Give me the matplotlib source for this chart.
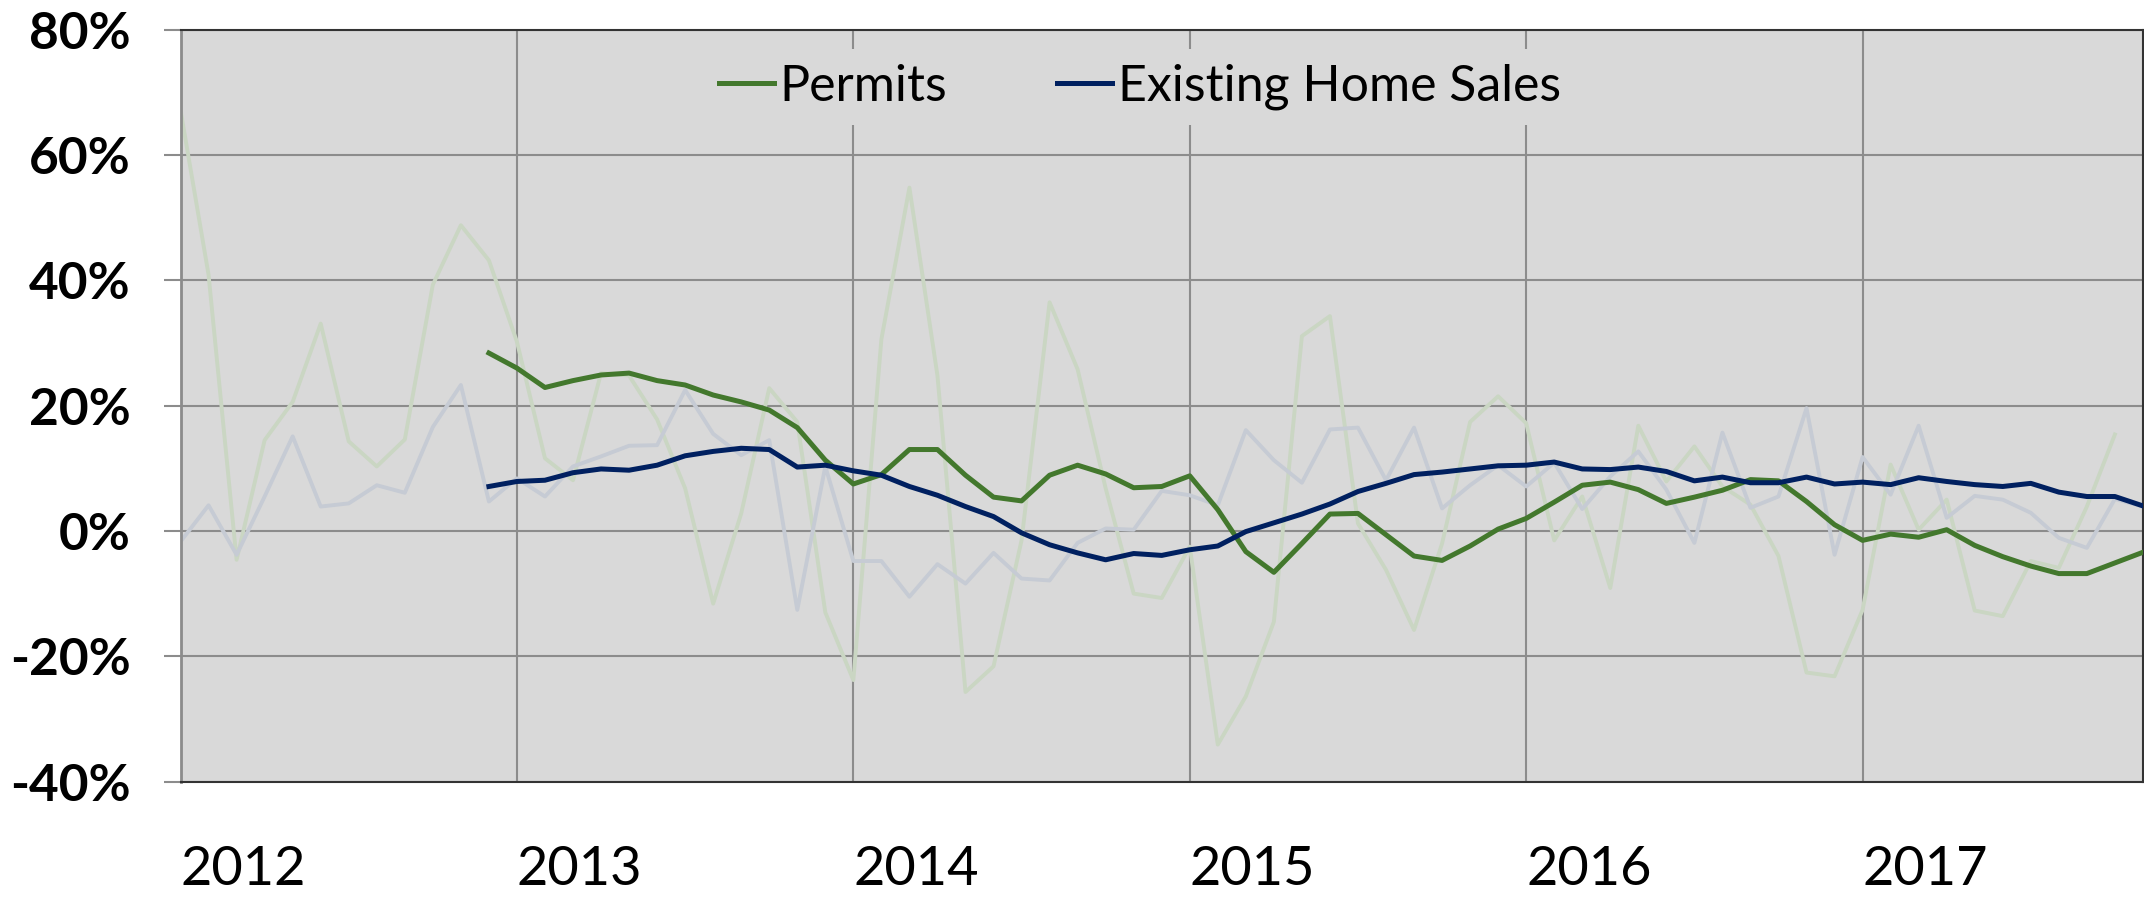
import matplotlib.pyplot as plt
import matplotlib.transforms as mtransforms

plt.rcParams['font.family'] = ['Lato', 'DejaVu Sans']

# monthly index: 0 = Jan 2012 ... 70 = Nov 2017
years = ['2012', '2013', '2014', '2015', '2016', '2017']
year_pos = [0, 12, 24, 36, 48, 60]

# raw year-over-year changes (%)
permits_raw = [67.2, 40.9, -4.6, 14.5, 20.6, 33.1, 14.3, 10.3, 14.6, 39.3, 48.8, 43.2,
               30.2, 11.6, 8.1, 25.2, 24.8, 17.8, 6.8, -11.6, 2.8, 22.8, 17.4, -13.0,
               -23.8, 30.6, 54.8, 24.8, -25.7, -21.6, -1.5, 36.5, 25.8, 6.8, -10.0, -10.7,
               -2.5, -34.1, -26.4, -14.5, 31.1, 34.3, 1.2, -6.2, -15.8, -2.0, 17.4, 21.5,
               17.2, -1.5, 5.5, -9.1, 16.8, 7.9, 13.5, 7.1, 4.2, -4.0, -22.6, -23.2,
               -12.6, 10.6, 0.2, 5.0, -12.7, -13.6, -4.8, -5.9, 3.9, 15.4]
sales_raw = [-1.7, 4.1, -3.8, 5.5, 15.1, 3.9, 4.4, 7.3, 6.1, 16.6, 23.3, 4.7,
             8.4, 5.5, 10.3, 11.9, 13.6, 13.7, 22.5, 15.5, 12.1, 14.5, -12.6, 10.3,
             -4.8, -4.8, -10.5, -5.3, -8.4, -3.5, -7.6, -7.9, -1.9, 0.4, 0.2, 6.4,
             5.7, 4.1, 16.1, 11.3, 7.7, 16.2, 16.5, 8.1, 16.5, 3.6, 7.3, 10.5,
             7.1, 10.9, 3.5, 8.7, 12.7, 6.6, -1.9, 15.7, 3.7, 5.5, 19.6, -3.8,
             11.8, 5.8, 16.8, 2.1, 5.6, 5.0, 2.9, -1.1, -2.7, 5.1, 3.9]

# 12-month averages, starting Dec 2012 (index 11)
avg_start = 11
permits_avg = [28.4, 26.0, 22.9, 24.0, 24.9, 25.2, 24.0, 23.3, 21.7, 20.6, 19.3, 16.5, 11.3,
               7.5, 9.0, 13.0, 13.0, 8.9, 5.4, 4.8, 8.9, 10.5, 9.1, 6.9, 7.1,
               8.8, 3.4, -3.3, -6.6, -2.0, 2.7, 2.8, -0.6, -4.0, -4.7, -2.4, 0.3,
               2.0, 4.6, 7.3, 7.8, 6.6, 4.4, 5.4, 6.5, 8.2, 8.0, 4.7, 1.0,
               -1.5, -0.5, -1.0, 0.2, -2.3, -4.1, -5.6, -6.8, -6.8, -5.1, -3.4]
sales_avg = [7.1, 7.9, 8.1, 9.3, 9.9, 9.7, 10.5, 12.0, 12.7, 13.2, 13.0, 10.2, 10.5,
             9.6, 8.9, 7.1, 5.7, 3.9, 2.3, -0.3, -2.2, -3.5, -4.6, -3.6, -3.9,
             -3.0, -2.4, -0.1, 1.3, 2.7, 4.3, 6.3, 7.6, 9.0, 9.4, 9.9, 10.4,
             10.5, 11.0, 9.9, 9.8, 10.2, 9.5, 8.0, 8.6, 7.7, 7.7, 8.6, 7.5,
             7.8, 7.4, 8.5, 7.9, 7.4, 7.1, 7.6, 6.2, 5.5, 5.5, 4.0]

green = '#43782D'
navy = '#002060'

fig = plt.figure(figsize=(21.44, 9), dpi=100)
ax = fig.add_axes([0.0842, 0.1316, 0.9153, 0.8353])
ax.set_facecolor('#D9D9D9')

ax.plot(range(len(permits_raw)), permits_raw, color='#CAD6C3', lw=2.8, zorder=2)
ax.plot(range(len(sales_raw)), sales_raw, color='#C6CBD4', lw=2.8, zorder=2)
ax.plot(range(avg_start, avg_start + len(permits_avg)), permits_avg, color=green, lw=3.6,
        label='Permits', zorder=3)
ax.plot(range(avg_start, avg_start + len(sales_avg)), sales_avg, color=navy, lw=3.6,
        label='Existing Home Sales', zorder=3)

ax.set_xlim(0, 70)
ax.set_ylim(-40, 80)
ax.set_yticks(range(-40, 81, 20))
ax.set_yticklabels([f'{v}%' for v in range(-40, 81, 20)], fontsize=37, fontweight='bold')
ax.set_xticks(year_pos)
ax.set_xticklabels(years, fontsize=39, ha='left')
offset = mtransforms.ScaledTranslation(5 / 100, 0, fig.dpi_scale_trans)
for lbl in ax.get_xticklabels():
    lbl.set_transform(lbl.get_transform() + offset)

ax.grid(True, color='#8C8C8C', lw=1.5, zorder=1)
ax.set_axisbelow(True)
ax.tick_params(axis='x', length=0, pad=46)
ax.tick_params(axis='y', length=12, width=1.5, color='#8C8C8C', pad=24)

for side in ['top', 'right', 'bottom']:
    ax.spines[side].set_color('#333333')
    ax.spines[side].set_linewidth(1.5)
ax.spines['left'].set_color('#8C8C8C')
ax.spines['left'].set_linewidth(2)

leg = ax.legend(loc='center', bbox_to_anchor=(0.489, 0.924), ncol=2, fontsize=36,
                frameon=True, facecolor='#D9D9D9', edgecolor='none', framealpha=1,
                handlelength=1.1, handletextpad=0.12, columnspacing=2.2, borderpad=0.3)
leg.set_zorder(4)

plt.savefig('out.png', dpi=100)
